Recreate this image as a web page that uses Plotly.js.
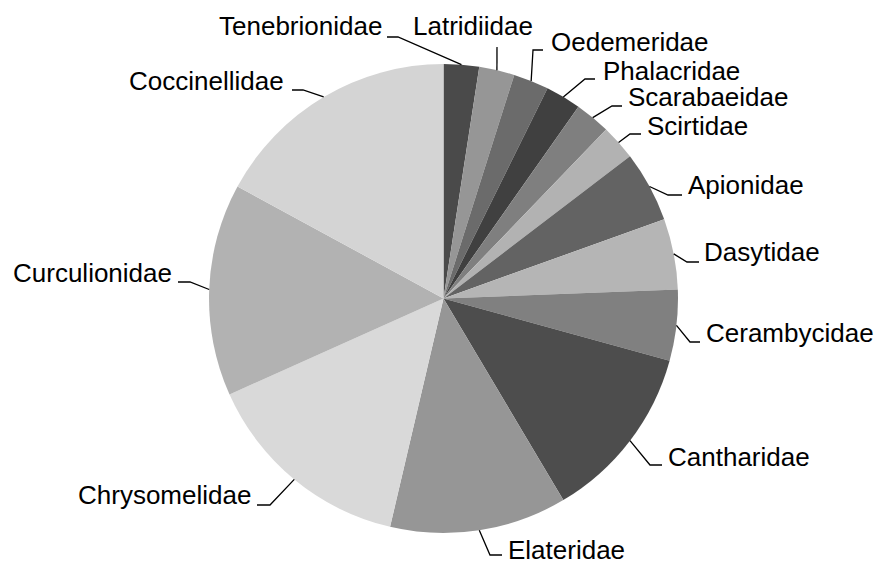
<!DOCTYPE html>
<html>
<head>
<meta charset="utf-8">
<script src="https://cdn.plot.ly/plotly-3.0.1.min.js"></script>
<style>html,body{margin:0;padding:0;background:#fff;}#chart{width:877px;height:564px;}</style>
</head>
<body>
<div id="chart"></div>
<script>
// ---- data ----
const families = ['Tenebrionidae','Latridiidae','Oedemeridae','Phalacridae','Scarabaeidae','Scirtidae','Apionidae','Dasytidae','Cerambycidae','Cantharidae','Elateridae','Chrysomelidae','Curculionidae','Coccinellidae'];
const counts = [1,1,1,1,1,1,2,2,2,5,5,6,6,7];
const sliceColors = ['#4a4a4a','#969696','#6b6b6b','#404040','#7f7f7f','#b2b2b2','#636363','#b5b5b5','#808080','#4d4d4d','#969696','#d9d9d9','#b2b2b2','#d4d4d4'];

// ---- label placement (pixels) ----
const labelElbow = [[398,37],[497,47],[533,50],[585,79],[612,106],[630,134],[668,195],[687,262],[690,342],[650,465],[490,555],[270,505],[190,282],[303,90]];
const labelTailX = [387,497,543,595,622,641,682,699,700,662,502,257,178,292];
const labelTextX = [383,473,550,602,627,646,687,703,705,667,507,252,173,285];
const labelTextY = [26,26,42,71,97,126,185,252,333,457,550,495,273,81];
const labelAnchor = ['right','center','left','left','left','left','left','left','left','left','left','right','right','right'];

const W = 877, H = 564;
const cx = 443.5, cy = 298.5, R = 234.5;
const px = x => x / W;
const py = y => 1 - y / H;

const total = counts.reduce((a,b)=>a+b,0);
let cum = 0;
const shapes = [], annotations = [];
counts.forEach((v,i)=>{
  const mid = (cum + v/2) / total * 2 * Math.PI;
  cum += v;
  const sx = cx + R * Math.sin(mid), sy = cy - R * Math.cos(mid);
  const [ex, ey] = labelElbow[i];
  const tx = labelTailX[i];
  shapes.push({type:'path', xref:'paper', yref:'paper',
    path:`M ${px(sx)} ${py(sy)} L ${px(ex)} ${py(ey)} L ${px(tx)} ${py(ey)}`,
    line:{color:'#000', width:1.3}});
  annotations.push({xref:'paper', yref:'paper', x:px(labelTextX[i]), y:py(labelTextY[i]),
    xanchor:labelAnchor[i], yanchor:'middle', showarrow:false, text:families[i],
    font:{family:'Liberation Sans, Arial, sans-serif', size:26, color:'#000'}, borderpad:0});
});

const trace = {
  type:'pie', labels:families, values:counts, sort:false, direction:'clockwise', rotation:0,
  marker:{colors:sliceColors, line:{width:0}}, textinfo:'none', hoverinfo:'label+value',
  domain:{x:[px(cx-R), px(cx+R)], y:[py(cy+R), py(cy-R)]}
};

Plotly.newPlot('chart',[trace],{
  width:W, height:H, margin:{l:0,r:0,t:0,b:0}, showlegend:false,
  paper_bgcolor:'#fff', plot_bgcolor:'#fff', shapes, annotations
},{displayModeBar:false, staticPlot:true});
</script>
</body>
</html>
